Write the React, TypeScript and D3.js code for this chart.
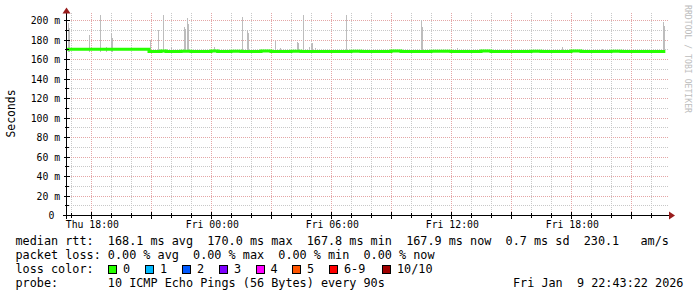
import React from "react";
import * as d3 from "d3";

const W = 697;
const H = 297;

const timeDomain = ["2026-01-08 16:48", "2026-01-09 22:48"];
const yTickValues = [0, 20, 40, 60, 80, 100, 120, 140, 160, 180, 200];
const yMinorValues = [10, 30, 50, 70, 90, 110, 130, 150, 170, 190];

// median rtt (ms), step series
const medianTimes = [
  "2026-01-08 16:48", "2026-01-08 20:54", "2026-01-08 21:30", "2026-01-08 21:45",
  "2026-01-08 22:30", "2026-01-08 23:00", "2026-01-09 00:00", "2026-01-09 00:20",
  "2026-01-09 01:00", "2026-01-09 01:30", "2026-01-09 02:30", "2026-01-09 03:00",
  "2026-01-09 04:00", "2026-01-09 04:30", "2026-01-09 05:30", "2026-01-09 07:00",
  "2026-01-09 07:30", "2026-01-09 09:00", "2026-01-09 09:30", "2026-01-09 11:00",
  "2026-01-09 12:00", "2026-01-09 13:30", "2026-01-09 14:00", "2026-01-09 16:00",
  "2026-01-09 16:30", "2026-01-09 18:00", "2026-01-09 18:30", "2026-01-09 20:00",
  "2026-01-09 20:30", "2026-01-09 22:43",
];
const medianValues = [
  170.0, 167.7, 168.1, 167.7,
  168.0, 167.7, 168.1, 167.7,
  168.0, 167.7, 168.1, 167.7,
  168.0, 167.7, 167.6, 168.0,
  167.7, 168.1, 167.7, 168.0,
  167.7, 168.1, 167.7, 168.0,
  167.7, 168.1, 167.7, 168.0,
  167.7, 167.7,
];

// smoke (max rtt spikes, ms)
const smokeTimes = [
  "2026-01-08 16:51", "2026-01-08 16:54", "2026-01-08 17:54", "2026-01-08 18:27",
  "2026-01-08 18:45", "2026-01-08 19:00", "2026-01-08 19:03", "2026-01-08 20:57",
  "2026-01-08 21:21", "2026-01-08 21:36", "2026-01-08 22:00", "2026-01-08 22:39",
  "2026-01-08 22:42", "2026-01-08 22:48", "2026-01-08 22:51", "2026-01-09 00:09",
  "2026-01-09 01:33", "2026-01-09 01:48", "2026-01-09 01:51", "2026-01-09 03:12",
  "2026-01-09 03:27", "2026-01-09 04:18", "2026-01-09 04:21", "2026-01-09 04:36",
  "2026-01-09 04:54", "2026-01-09 05:00", "2026-01-09 05:03", "2026-01-09 05:12",
  "2026-01-09 06:45", "2026-01-09 10:30", "2026-01-09 10:33", "2026-01-09 12:18",
  "2026-01-09 17:33", "2026-01-09 19:33", "2026-01-09 20:36", "2026-01-09 22:36",
  "2026-01-09 22:39",
];
const smokeMax = [
  197, 192, 185, 205,
  172, 187, 182, 180,
  190, 205, 172, 193,
  191, 202, 196, 172,
  203, 190, 187, 178,
  171, 177, 176, 205,
  172, 175, 176, 171,
  205, 200, 193, 171,
  172, 170.5, 170.5, 198,
  194,
];
const smokeBase = 167.5;

const legendLine1 = "median rtt:  168.1 ms avg  170.0 ms max  167.8 ms min  167.9 ms now  0.7 ms sd  230.1   am/s";
const legendLine2 = "packet loss: 0.00 % avg  0.00 % max  0.00 % min  0.00 % now";
const legendLine3 = "loss color:";
const legendLine4 = "probe:       10 ICMP Echo Pings (56 Bytes) every 90s";
const dateStamp = "Fri Jan  9 22:43:22 2026";
const lossLabels = ["0", "1", "2", "3", "4", "5", "6-9", "10/10"];
const lossColors = ["#26ff00", "#00b8ff", "#0059ff", "#7e00ff", "#ff00ff", "#ff5500", "#ff0000", "#a00000"];
const lossBoxX = [108, 145, 182, 219, 255.5, 292, 329, 382];

const parse = d3.timeParse("%Y-%m-%d %H:%M");
const MONO = "'DejaVu Sans Mono', monospace";

export default function App() {
  const x = d3.scaleTime()
    .domain(timeDomain.map((s) => parse(s) as Date))
    .range([67, 667]);
  const y = d3.scaleLinear().domain([0, 200]).range([215, 20]);

  const [t0, t1] = x.domain();
  const minorTimes = d3.timeHour.every(1)!.range(t0, t1);
  const majorTimes = d3.timeHour.every(3)!.range(t0, t1);
  const labelTimes = d3.timeHour.every(6)!.range(t0, t1);
  const fmt = d3.timeFormat("%a %H:%M");

  const px = (v: number) => Math.round(v) + 0.5;

  const medianData = medianTimes.map((t, i) => ({ t: parse(t) as Date, v: medianValues[i] }));
  const medianPath = d3.line<{ t: Date; v: number }>()
    .x((d) => x(d.t))
    .y((d) => y(d.v))
    .curve(d3.curveStepAfter)(medianData) || "";

  const smoke = smokeTimes.map((t, i) => ({ t: parse(t) as Date, v: smokeMax[i] }));

  const minorGrid = "#c8c8c8";
  const majorGrid = "#e4a6a6";
  const arrow = "#981c1c";

  return (
    <svg width={W} height={H} style={{ position: "absolute", left: 0, top: 0, background: "#fff" }}>
      <rect x={0} y={0} width={W} height={H} fill="#fff" />
      {/* minor horizontal grid */}
      <g shapeRendering="crispEdges">
        {yMinorValues.map((v) => (
          <line key={"hm" + v} x1={67} x2={669} y1={px(y(v))} y2={px(y(v))} stroke={minorGrid} strokeDasharray="1,1" />
        ))}
        {minorTimes.filter((t) => t.getHours() % 3 !== 0).map((t, i) => (
          <line key={"vm" + i} x1={px(x(t))} x2={px(x(t))} y1={13} y2={215} stroke={minorGrid} strokeDasharray="1,1" />
        ))}
        {yTickValues.filter((v) => v > 0).map((v) => (
          <line key={"hM" + v} x1={67} x2={669} y1={px(y(v))} y2={px(y(v))} stroke={majorGrid} strokeDasharray="1,1" />
        ))}
        {majorTimes.map((t, i) => (
          <line key={"vM" + i} x1={px(x(t))} x2={px(x(t))} y1={13} y2={215} stroke={majorGrid} strokeDasharray="1,1" />
        ))}
      </g>

      {/* smoke */}
      <g shapeRendering="crispEdges">
        {smoke.map((d, i) => (
          <rect key={"s" + i} x={Math.round(x(d.t))} width={1} y={y(d.v)} height={y(smokeBase) - y(d.v)} fill="#bdbdbd" />
        ))}
      </g>

      {/* median */}
      <path d={medianPath} fill="none" stroke="#26ff00" strokeWidth={3} />

      {/* axes */}
      <g shapeRendering="crispEdges">
        <line x1={63} x2={670} y1={215.5} y2={215.5} stroke="#000" />
        <line x1={66.5} x2={66.5} y1={11} y2={219} stroke="#000" />
        {yTickValues.map((v) => (
          <line key={"yt" + v} x1={64} x2={70} y1={px(y(v))} y2={px(y(v))} stroke="#000" />
        ))}
        {yMinorValues.map((v) => (
          <line key={"ytm" + v} x1={65} x2={69} y1={px(y(v))} y2={px(y(v))} stroke="#000" />
        ))}
        {majorTimes.map((t, i) => (
          <line key={"xt" + i} x1={px(x(t))} x2={px(x(t))} y1={212} y2={219} stroke="#000" />
        ))}
        {minorTimes.map((t, i) => (
          <line key={"xtm" + i} x1={px(x(t))} x2={px(x(t))} y1={213} y2={218} stroke="#000" />
        ))}
      </g>
      <path d="M62.5,13.5 L66.5,7.5 L70.5,13.5 Z" fill={arrow} />
      <path d="M669,211.5 L675,215.5 L669,219.5 Z" fill={arrow} />

      {/* y tick labels */}
      <g fontFamily={MONO} fontSize={9.8} fill="#000">
        {yTickValues.map((v) => (
          <text key={"yl" + v} x={v === 0 ? 54.3 : 60.2} y={px(y(v)) + 3.3} textAnchor="end">
            {v === 0 ? "0" : `${v} m`}
          </text>
        ))}
        {labelTimes.map((t, i) => (
          <text key={"xl" + i} x={x(t) + 1.3} y={228} textAnchor="middle">
            {fmt(t)}
          </text>
        ))}
      </g>

      {/* y axis title */}
      <text
        transform="translate(15,113.5) rotate(-90)"
        textAnchor="middle"
        fontFamily={MONO}
        fontSize={11.4}
        fill="#000"
      >
        Seconds
      </text>

      {/* watermark */}
      <text
        transform="translate(684.5,5) rotate(90)"
        fontFamily={MONO}
        fontSize={8.5}
        fill="#bcbcbc"
        textLength={108}
        lengthAdjust="spacingAndGlyphs"
      >
        RRDTOOL / TOBI OETIKER
      </text>

      {/* legend */}
      <g fontFamily={MONO} fontSize={11.8} fill="#000" style={{ whiteSpace: "pre" }}>
        <text x={15.5} y={245} xmlSpace="preserve">{legendLine1}</text>
        <text x={15.5} y={259} xmlSpace="preserve">{legendLine2}</text>
        <text x={15.5} y={273} xmlSpace="preserve">{legendLine3}</text>
        {lossLabels.map((l, i) => (
          <g key={"lc" + i}>
            <rect x={lossBoxX[i] + 0.5} y={265.5} width={8} height={8} fill={lossColors[i]} stroke="#000" shapeRendering="crispEdges" />
            <text x={lossBoxX[i] + 15} y={273}>{l}</text>
          </g>
        ))}
        <text x={15.5} y={287} xmlSpace="preserve">{legendLine4}</text>
        <text x={513} y={287} xmlSpace="preserve">{dateStamp}</text>
      </g>
    </svg>
  );
}
